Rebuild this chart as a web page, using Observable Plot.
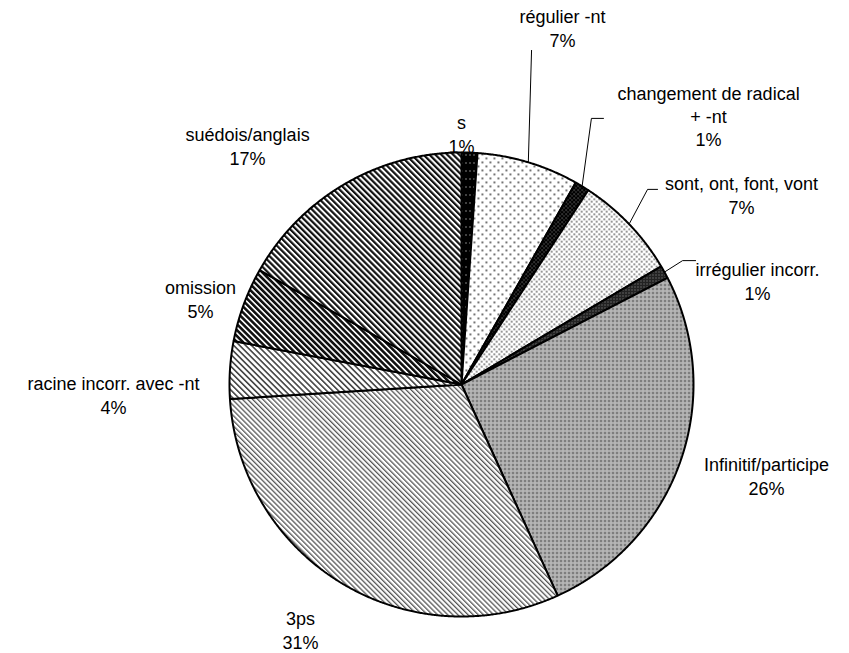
<!DOCTYPE html>
<html>
<head>
<meta charset="utf-8">
<script src="https://cdn.jsdelivr.net/npm/d3@7"></script>
<script src="https://cdn.jsdelivr.net/npm/@observablehq/plot@0.6"></script>
<style>
  html, body { margin: 0; padding: 0; background: #fff; }
  #chart { width: 849px; height: 653px; }
</style>
</head>
<body>
<svg width="0" height="0" style="position:absolute">
  <defs>
    <pattern id="pat-s" width="4" height="8" patternUnits="userSpaceOnUse">
      <rect width="4" height="8" fill="#000"/>
      <rect x="1" y="2" width="1" height="1" fill="#fff"/>
    </pattern>
    <pattern id="pat-reg" width="8" height="8" patternUnits="userSpaceOnUse">
      <rect width="8" height="8" fill="#fff"/>
      <rect x="1" y="1" width="1.8" height="1.8" fill="#555"/>
      <rect x="5" y="5" width="1.8" height="1.8" fill="#555"/>
    </pattern>
    <pattern id="pat-chg" width="4" height="4" patternUnits="userSpaceOnUse">
      <rect width="4" height="4" fill="#000"/>
      <rect x="1" y="1" width="1.2" height="1.2" fill="#888"/>
      <rect x="3" y="3" width="1.2" height="1.2" fill="#888"/>
    </pattern>
    <pattern id="pat-sont" width="5" height="5" patternUnits="userSpaceOnUse">
      <rect width="5" height="5" fill="#fff"/>
      <rect x="0.5" y="0.5" width="1.5" height="1.5" fill="#444"/>
      <rect x="3" y="3" width="1.5" height="1.5" fill="#444"/>
    </pattern>
    <pattern id="pat-irr" width="3" height="3" patternUnits="userSpaceOnUse">
      <rect width="3" height="3" fill="#222"/>
      <rect x="1" y="1" width="1" height="1" fill="#999"/>
    </pattern>
    <pattern id="pat-inf" width="4" height="4" patternUnits="userSpaceOnUse">
      <rect width="4" height="4" fill="#9c9c9c"/>
      <rect x="0" y="0" width="1" height="1" fill="#222"/>
      <rect x="2" y="2" width="1" height="1" fill="#fff"/>
      <rect x="0" y="2" width="1" height="1" fill="#ddd"/>
      <rect x="2" y="0" width="1" height="1" fill="#ddd"/>
    </pattern>
    <pattern id="pat-3ps" width="3.6" height="10" patternUnits="userSpaceOnUse" patternTransform="rotate(-45)">
      <rect width="3.6" height="10" fill="#fff"/>
      <rect width="1.3" height="10" fill="#555"/>
    </pattern>
    <pattern id="pat-rac" width="4.2" height="10" patternUnits="userSpaceOnUse" patternTransform="rotate(-45)">
      <rect width="4.2" height="10" fill="#fff"/>
      <rect width="1.6" height="10" fill="#444"/>
    </pattern>
    <pattern id="pat-omi" width="4.2" height="10" patternUnits="userSpaceOnUse" patternTransform="rotate(-45)">
      <rect width="4.2" height="10" fill="#fff"/>
      <rect width="2.6" height="10" fill="#111"/>
    </pattern>
    <pattern id="pat-sue" width="4.2" height="10" patternUnits="userSpaceOnUse" patternTransform="rotate(-45)">
      <rect width="4.2" height="10" fill="#fff"/>
      <rect width="2.2" height="10" fill="#111"/>
    </pattern>
  </defs>
</svg>
<div id="chart"></div>
<script>
// ---- data ----
const categories = [
  "s", "régulier -nt", "changement de radical\n+ -nt", "sont, ont, font, vont",
  "irrégulier incorr.", "Infinitif/participe", "3ps", "racine incorr. avec -nt",
  "omission", "suédois/anglais"
];
const values = [1.1, 7.1, 1.0, 7.3, 0.9, 25.8, 30.8, 4.0, 5.2, 16.8];
const patterns = ["pat-s", "pat-reg", "pat-chg", "pat-sont", "pat-irr", "pat-inf", "pat-3ps", "pat-rac", "pat-omi", "pat-sue"];

// ---- layout (pie geometry in pixels; label anchors in pie-radius units) ----
const W = 849, H = 653, CX = 461, CY = 384, R = 232;
const labelLayout = [
  [0.000, 1.082], [0.435, 1.539], [1.065, 1.159], [1.207, 0.819], [1.276, 0.448],
  [1.315, -0.392], [-0.694, -1.056], [-1.500, -0.043], [-1.125, 0.371], [-0.922, 1.030]
];
// leader line extra points (after the rim point) for some slices
const leaderLayout = {
  1: [[0.302, 1.440]],
  2: [[0.560, 1.147], [0.612, 1.147]],
  3: [[0.802, 0.841], [0.845, 0.841]],
  4: [[0.953, 0.534], [1.009, 0.534]]
};

const total = d3.sum(values);
const pie = d3.pie().sort(null).value(d => d).startAngle(0).endAngle(2 * Math.PI)(values);

const slicePts = [];
pie.forEach((a, i) => {
  slicePts.push({x: 0, y: 0, k: i, pat: `url(#${patterns[i]})`});
  const n = Math.max(2, Math.ceil((a.endAngle - a.startAngle) / 0.005));
  for (let j = 0; j <= n; j++) {
    const t = a.startAngle + (a.endAngle - a.startAngle) * j / n;
    slicePts.push({x: Math.sin(t), y: Math.cos(t), k: i, pat: `url(#${patterns[i]})`});
  }
  slicePts.push({x: 0, y: 0, k: i, pat: `url(#${patterns[i]})`});
});

const labels = categories.map((c, i) => ({
  x: labelLayout[i][0], y: labelLayout[i][1],
  text: `${c}\n${Math.round(values[i] / total * 100)}%`
}));

const leaders = [];
Object.entries(leaderLayout).forEach(([i, pts]) => {
  const a = pie[+i];
  const m = (a.startAngle + a.endAngle) / 2;
  leaders.push({x: Math.sin(m), y: Math.cos(m), k: +i});
  pts.forEach(p => leaders.push({x: p[0], y: p[1], k: +i}));
});

const chart = Plot.plot({
  width: W, height: H, margin: 0,
  x: {domain: [-1, 1], range: [CX - R, CX + R], axis: null},
  y: {domain: [-1, 1], range: [CY + R, CY - R], axis: null},
  color: {type: "identity"},
  style: {fontFamily: "'Liberation Sans', Arial, sans-serif", background: "#fff", overflow: "visible"},
  marks: [
    Plot.line(slicePts, {x: "x", y: "y", z: "k", fill: "pat", stroke: "#000", strokeWidth: 2, strokeLinejoin: "miter", curve: "linear"}),
    Plot.line(leaders, {x: "x", y: "y", z: "k", stroke: "#000", strokeWidth: 1, strokeLinejoin: "miter"}),
    Plot.text(labels, {x: "x", y: "y", text: "text", fontSize: 18, lineHeight: 1.3, textAnchor: "middle", lineAnchor: "middle", fill: "#000"})
  ]
});
document.getElementById("chart").appendChild(chart);
</script>
</body>
</html>
